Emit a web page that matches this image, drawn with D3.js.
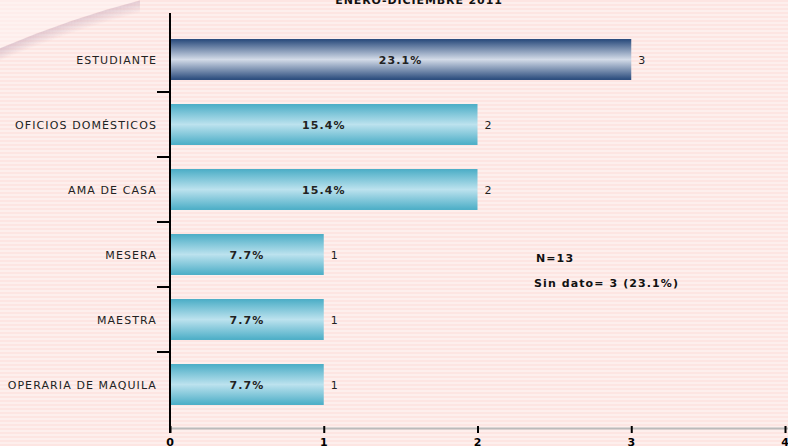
<!DOCTYPE html>
<html>
<head>
<meta charset="utf-8">
<script src="https://cdn.jsdelivr.net/npm/d3@7"></script>
<style>
  body { margin: 0; padding: 0; overflow: hidden; }
  svg text { font-family: Verdana, "DejaVu Sans", sans-serif; letter-spacing: 1.1px; }
</style>
</head>
<body>
<div id="chart"></div>
<script>
// data
var categories = ["ESTUDIANTE", "OFICIOS DOMÉSTICOS", "AMA DE CASA", "MESERA", "MAESTRA", "OPERARIA DE MAQUILA"];
var counts = [3, 2, 2, 1, 1, 1];
var percents = ["23.1%", "15.4%", "15.4%", "7.7%", "7.7%", "7.7%"];
var xTicks = [0, 1, 2, 3, 4];
var title = "ENERO-DICIEMBRE 2011";
var notes = ["N=13", "Sin dato= 3 (23.1%)"];

var W = 788, H = 446;

var svg = d3.select("#chart").append("svg")
  .attr("width", W)
  .attr("height", H);

var defs = svg.append("defs");

// striped pink background
var pat = defs.append("pattern")
  .attr("id", "stripes")
  .attr("width", 8).attr("height", 4)
  .attr("patternUnits", "userSpaceOnUse");
pat.append("rect").attr("width", 8).attr("height", 4).attr("fill", "#fde5e2");
pat.append("rect").attr("y", 2).attr("width", 8).attr("height", 2).attr("fill", "#fdefed");

svg.append("rect").attr("width", W).attr("height", H).attr("fill", "url(#stripes)");

// corner swoosh
var swoosh = "M0,48 Q70,18 140,0";
svg.append("path")
  .attr("d", swoosh + " L0,0 Z")
  .attr("fill", "#fff5f4")
  .attr("opacity", 0.5);
for (var i = 0; i < 12; i++) {
  svg.append("path")
    .attr("d", swoosh)
    .attr("transform", "translate(0," + (i + 1) + ")")
    .attr("fill", "none")
    .attr("stroke", "#c7a8ba")
    .attr("stroke-width", 1.2)
    .attr("opacity", 0.45 * (1 - i / 12));
}

// bar gradients
function makeGrad(id, edge, mid) {
  var g = defs.append("linearGradient")
    .attr("id", id)
    .attr("x1", 0).attr("y1", 0).attr("x2", 0).attr("y2", 1);
  g.append("stop").attr("offset", "0%").attr("stop-color", edge);
  g.append("stop").attr("offset", "50%").attr("stop-color", mid);
  g.append("stop").attr("offset", "100%").attr("stop-color", edge);
}
makeGrad("gradBlue", "#26487a", "#d3dbe8");
makeGrad("gradTeal", "#4aadc6", "#bce2ee");

var x = d3.scaleLinear()
  .domain([0, 4])
  .range([170, 785]);

var y = d3.scaleBand()
  .domain(categories)
  .range([27, 417])
  .paddingInner(0.37)
  .paddingOuter(0.185);

// title
svg.append("text")
  .attr("x", 419)
  .attr("y", 4)
  .attr("text-anchor", "middle")
  .attr("font-size", "11px")
  .attr("font-weight", "bold")
  .style("letter-spacing", "0.9px")
  .attr("fill", "#111")
  .text(title);

// bars
svg.selectAll("rect.bar")
  .data(categories)
  .enter()
  .append("rect")
  .attr("class", "bar")
  .attr("x", x(0))
  .attr("y", d => y(d))
  .attr("width", (d, i) => x(counts[i]) - x(0))
  .attr("height", y.bandwidth())
  .attr("fill", (d, i) => i == 0 ? "url(#gradBlue)" : "url(#gradTeal)");

// percent labels inside bars
svg.selectAll("text.pct")
  .data(categories)
  .enter()
  .append("text")
  .attr("class", "pct")
  .attr("x", (d, i) => (x(0) + x(counts[i])) / 2)
  .attr("y", (d, i) => y(d) + y.bandwidth() / 2 + 4)
  .attr("text-anchor", "middle")
  .attr("font-size", "11px")
  .attr("font-weight", "bold")
  .attr("fill", "#222")
  .text((d, i) => percents[i]);

// count labels
svg.selectAll("text.cnt")
  .data(categories)
  .enter()
  .append("text")
  .attr("class", "cnt")
  .attr("x", (d, i) => x(counts[i]) + 7)
  .attr("y", (d, i) => y(d) + y.bandwidth() / 2 + 4)
  .attr("font-size", "11px")
  .attr("fill", "#222")
  .text((d, i) => counts[i]);

// category labels
svg.selectAll("text.cat")
  .data(categories)
  .enter()
  .append("text")
  .attr("class", "cat")
  .attr("x", 157)
  .attr("y", d => y(d) + y.bandwidth() / 2 + 4)
  .attr("text-anchor", "end")
  .attr("font-size", "11px")
  .attr("fill", "#222")
  .text(d => d);

// x axis
svg.append("line")
  .attr("x1", x(0)).attr("x2", W)
  .attr("y1", 428.5).attr("y2", 428.5)
  .attr("stroke", "#bbbbbb")
  .attr("stroke-width", 2);

var xAxis = svg.append("g")
  .attr("transform", "translate(0,426)")
  .call(d3.axisBottom(x).tickValues(xTicks).tickSize(7).tickPadding(5).tickFormat(d3.format("d")));
xAxis.select(".domain").remove();
xAxis.selectAll(".tick line").attr("stroke", "#000").attr("stroke-width", 2);
xAxis.selectAll(".tick text")
  .attr("font-size", "11px")
  .attr("font-weight", "bold")
  .attr("fill", "#000")
  .style("font-family", "Verdana, 'DejaVu Sans', sans-serif");

// y axis line and ticks between categories
svg.append("line")
  .attr("x1", 170).attr("x2", 170)
  .attr("y1", 13).attr("y2", 433)
  .attr("stroke", "#000")
  .attr("stroke-width", 2);

var step = y.step();
svg.selectAll("line.ytick")
  .data(categories.slice(1))
  .enter()
  .append("line")
  .attr("class", "ytick")
  .attr("x1", 157).attr("x2", 170)
  .attr("y1", d => y(d) - y.paddingInner() * step / 2)
  .attr("y2", d => y(d) - y.paddingInner() * step / 2)
  .attr("stroke", "#000")
  .attr("stroke-width", 2);

// notes
svg.append("text")
  .attr("x", 536).attr("y", 262)
  .attr("font-size", "11px")
  .attr("font-weight", "bold")
  .attr("fill", "#111")
  .text(notes[0]);
svg.append("text")
  .attr("x", 534).attr("y", 287)
  .attr("font-size", "11px")
  .attr("font-weight", "bold")
  .attr("fill", "#111")
  .text(notes[1]);
</script>
</body>
</html>
